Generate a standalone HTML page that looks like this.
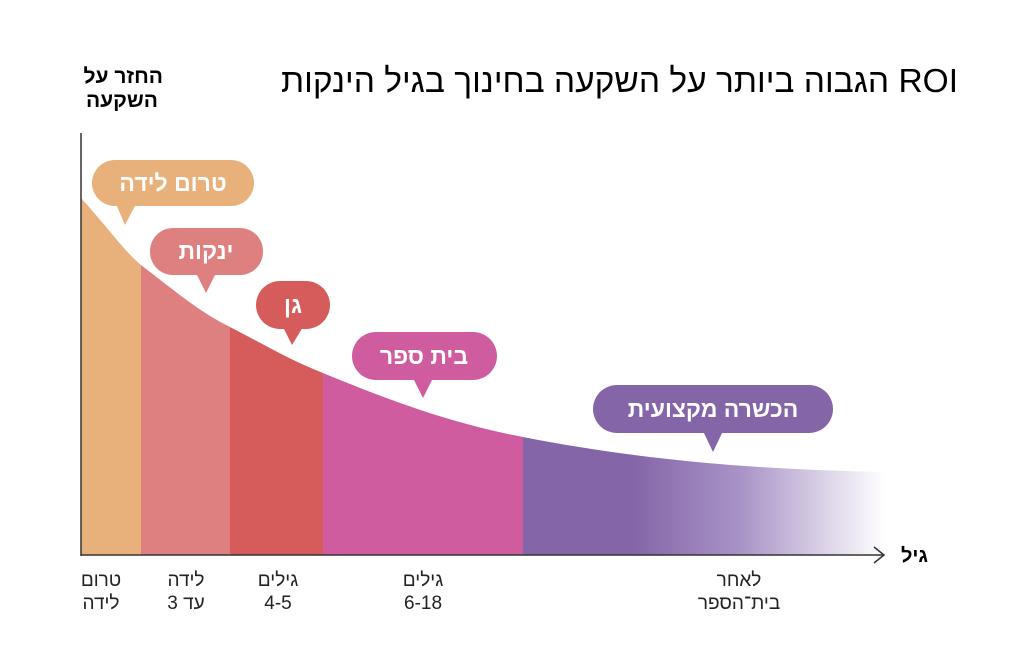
<!DOCTYPE html>
<html><head><meta charset="utf-8"><style>
body{margin:0;background:#fff;}
svg text{font-family:"Liberation Sans","Noto Sans CJK SC",sans-serif;}
</style></head><body>
<svg width="1024" height="666" viewBox="0 0 1024 666">
<defs>
<linearGradient id="pg" x1="523" y1="0" x2="885" y2="0" gradientUnits="userSpaceOnUse">
<stop offset="0" stop-color="#8465A8"/><stop offset="0.3" stop-color="#8465A8"/>
<stop offset="0.6" stop-color="#A893C6"/><stop offset="1" stop-color="#ffffff"/></linearGradient>
<clipPath id="cc"><path d="M81,198 C110,230 125,252 141,265 C180,295 200,312 230,327 C265,345 290,360 323,373 C400,405 460,425 523,437 C640,460 760,470 885,472 L885,555 L81,555 Z"/></clipPath>
</defs>
<g clip-path="url(#cc)">
<rect x="81" y="150" width="60" height="405" fill="#E8B07A"/>
<rect x="141" y="150" width="89" height="405" fill="#DE8080"/>
<rect x="230" y="150" width="93" height="405" fill="#D65C5C"/>
<rect x="323" y="150" width="200" height="405" fill="#CE5C9E"/>
<rect x="523" y="150" width="362" height="405" fill="url(#pg)"/>
</g>
<line x1="81" y1="133" x2="81" y2="556" stroke="#333" stroke-width="1.5"/>
<line x1="81" y1="555" x2="884" y2="555" stroke="#333" stroke-width="1.5"/>
<polyline points="874,547 884,555 874,563" fill="none" stroke="#333" stroke-width="1.5"/>
<text x="958" y="92" font-size="33.5" text-anchor="start" direction="rtl">ROI הגבוה ביותר על השקעה בחינוך בגיל הינקות</text>
<text x="163" y="83" font-size="21" font-weight="bold" text-anchor="start" direction="rtl">החזר על</text>
<text x="158" y="107" font-size="21" font-weight="bold" text-anchor="start" direction="rtl">השקעה</text>
<text x="928" y="562" font-size="20" font-weight="bold" text-anchor="start" direction="rtl">גיל</text>
<g font-weight="bold" fill="#fff" text-anchor="middle" font-size="23" direction="rtl">
<rect x="92" y="160" width="162" height="46" rx="23" fill="#E8B07A"/><polygon points="116,204 136,204 125,225" fill="#E8B07A"/>
<text x="173" y="191">טרום לידה</text>
<rect x="150" y="228" width="113" height="47" rx="23" fill="#DE8080"/><polygon points="196,273 216,273 206,293" fill="#DE8080"/>
<text x="206" y="259">ינקות</text>
<rect x="256" y="281" width="74" height="48" rx="24" fill="#D65C5C"/><polygon points="283,327 303,327 292,345" fill="#D65C5C"/>
<text x="293" y="313">גן</text>
<rect x="352" y="332" width="145" height="48" rx="24" fill="#CE5C9E"/><polygon points="413,378 433,378 423,398" fill="#CE5C9E"/>
<text x="424" y="364">בית ספר</text>
<rect x="593" y="385" width="240" height="48" rx="24" fill="#8465A8"/><polygon points="703,431 723,431 713,452" fill="#8465A8"/>
<text x="713" y="417">הכשרה מקצועית</text>
</g>
<g font-size="19" text-anchor="middle" fill="#222" direction="rtl">
<text x="101" y="586">טרום</text><text x="101" y="609">לידה</text>
<text x="186" y="586">לידה</text><text x="186" y="609">עד 3</text>
<text x="278" y="586">גילים</text><text x="278" y="609">4-5</text>
<text x="423" y="586">גילים</text><text x="423" y="609">6-18</text>
<text x="739" y="586">לאחר</text><text x="739" y="609">בית־הספר</text>
</g>
</svg>
</body></html>
